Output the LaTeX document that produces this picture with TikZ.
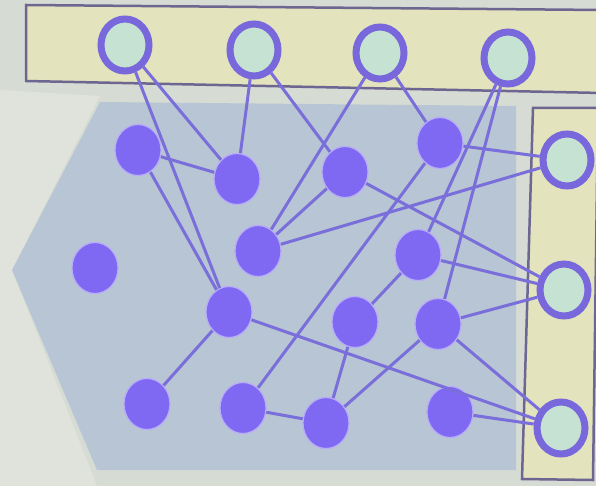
\documentclass[tikz,border=0pt]{standalone}
\usetikzlibrary{shapes.geometric}
\definecolor{bgc}{HTML}{D6DBD3}
\definecolor{lightbg}{HTML}{E0E3DB}
\definecolor{bluec}{HTML}{B7C5D4}
\definecolor{yelc}{HTML}{E3E3BD}
\definecolor{framec}{HTML}{6C6690}
\definecolor{nodec}{HTML}{7F68F2}
\definecolor{ringc}{HTML}{7868DC}
\definecolor{ringfill}{HTML}{C6E2D2}
\definecolor{edgec}{HTML}{7A6EDA}
\begin{document}
\begin{tikzpicture}[x=1pt,y=-1pt,
 hid/.style={ellipse, minimum width=46pt, minimum height=51pt, inner sep=0pt, fill=nodec, draw=nodec!55!white, line width=1.2pt},
 outn/.style={ellipse, minimum width=48pt, minimum height=52pt, inner sep=0pt, fill=ringfill, draw=ringc, line width=7pt},
 edge/.style={draw=edgec, line width=3pt},
 frame/.style={draw=framec, line width=2.5pt, fill=yelc}]
\fill[bgc] (0,0) rectangle (596,486);
\useasboundingbox (0,0) rectangle (596,486);
\fill[lightbg] (0,90) -- (100,96) -- (12,270) -- (97,486) -- (0,486) -- cycle;
% blue region
\fill[bluec] (100,102) -- (516,106) -- (516,470) -- (97,470) -- (12,270) -- cycle;
% top frame
\path[frame] (602,10) -- (26,5) -- (26,81) -- (602,93);
% right frame
\path[frame] (602,108) -- (533,108) -- (522,479) -- (593,480) -- (598,108);
% output nodes
\node[outn] (o1) at (125,45) {};
\node[outn] (o2) at (254,50) {};
\node[outn] (o3) at (380,53) {};
\node[outn] (o4) at (508,58) {};
\node[outn] (r1) at (567,160) {};
\node[outn] (r2) at (564,290) {};
\node[outn] (r3) at (561,428) {};
% hidden nodes
\node[hid] (A) at (138,150) {};
\node[hid] (B) at (237,179) {};
\node[hid] (C) at (345,172) {};
\node[hid] (D) at (440,143) {};
\node[hid] (E) at (258,251) {};
\node[hid] (F) at (418,255) {};
\node[hid] (G) at (95,268) {};
\node[hid] (H) at (229,312) {};
\node[hid] (I) at (355,322) {};
\node[hid] (J) at (438,324) {};
\node[hid] (K) at (147,404) {};
\node[hid] (L) at (243,408) {};
\node[hid] (M) at (326,423) {};
\node[hid] (N) at (450,412) {};
% edges
\path[edge] (o1) -- (B);
\path[edge] (o1) -- (H);
\path[edge] (A) -- (H);
\path[edge] (A) -- (B);
\path[edge] (o2) -- (B);
\path[edge] (o2) -- (C);
\path[edge] (o3) -- (E);
\path[edge] (o3) -- (D);
\path[edge] (C) -- (E);
\path[edge] (E) -- (r1);
\path[edge] (D) -- (r1);
\path[edge] (D) -- (L);
\path[edge] (C) -- (r2);
\path[edge] (o4) -- (F);
\path[edge] (o4) -- (J);
\path[edge] (F) -- (r2);
\path[edge] (F) -- (I);
\path[edge] (J) -- (r2);
\path[edge] (J) -- (r3);
\path[edge] (J) -- (M);
\path[edge] (I) -- (M);
\path[edge] (L) -- (M);
\path[edge] (H) -- (K);
\path[edge] (H) -- (r3);
\path[edge] (N) -- (r3);
\end{tikzpicture}
\end{document}
